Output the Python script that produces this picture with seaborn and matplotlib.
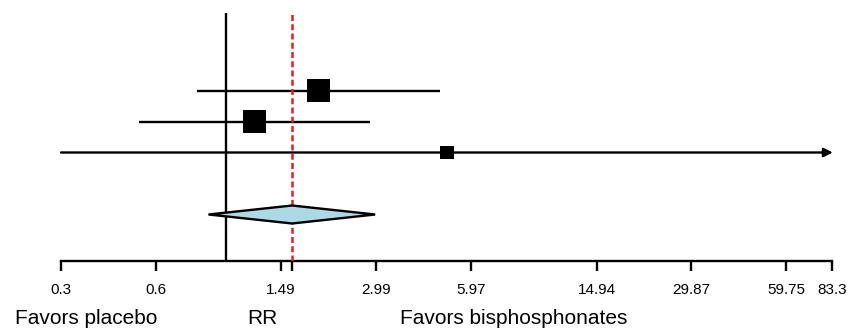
import numpy as np
import pandas as pd
import matplotlib
matplotlib.use("Agg")
import matplotlib.pyplot as plt
import seaborn as sns

# ---- data ----
studies = ["Study 1", "Study 2", "Study 3"]
rr = [1.96, 1.23, 5.02]
ci_low = [0.81, 0.53, 0.30]
ci_high = [4.77, 2.86, 83.3]
weights = [3, 3, 1]  # relative box weight
pooled_rr = 1.62
pooled_low = 0.88
pooled_high = 2.97
tick_values = [0.3, 0.6, 1.49, 1.62, 2.99, 5.97, 14.94, 29.87, 59.75, 83.3]
tick_labels = ["0.3", "0.6", "1.49", "", "2.99", "5.97", "14.94", "29.87", "59.75", "83.3"]

sns.set_theme(style="white")
plt.rcParams['font.family'] = ['Liberation Sans', 'DejaVu Sans']
plt.rcParams['text.color'] = 'black'
plt.rcParams['xtick.color'] = 'black'

W, H = 850, 329
fig = plt.figure(figsize=(W / 100, H / 100), dpi=100)
# axes: x 61..832 px, y 13..261 px (from top)
ax = fig.add_axes([61 / W, 1 - 261 / H, (832 - 61) / W, (261 - 13) / H])
ax.set_xscale("log")
ax.set_xlim(0.3, 83.3)
ax.set_ylim(6.5, -1.5)

df = pd.DataFrame({"study": studies, "rr": rr, "lo": ci_low, "hi": ci_high,
                   "w": weights, "row": [1, 2, 3]})

# CI lines
for _, r in df.iterrows():
    if r["hi"] >= 83.3:
        ax.annotate("", xy=(r["hi"] * 1.006, r["row"]), xytext=(r["lo"], r["row"]),
                    arrowprops=dict(arrowstyle="-|>", color="black", lw=1.7,
                                    mutation_scale=13, shrinkA=0, shrinkB=0),
                    annotation_clip=False)
    else:
        ax.plot([r["lo"], r["hi"]], [r["row"], r["row"]], color="black", lw=1.7,
                solid_capstyle="butt", zorder=2)

# squares
sns.scatterplot(data=df, x="rr", y="row", size="w", sizes=(10 ** 2, 16.5 ** 2),
                marker="s", color="black", edgecolor="black", linewidth=0,
                legend=False, ax=ax, zorder=3, clip_on=False)

# vertical reference lines
ax.axvline(1.0, ymin=0, ymax=1, color="black", lw=1.7, zorder=1)
ax.axvline(pooled_rr, color="#dd2222", lw=1.8, ls=(0, (2.4, 1.3)), zorder=4)

# pooled diamond
yd = 5.0
hh = 0.29
ax.fill([pooled_low, pooled_rr, pooled_high, pooled_rr],
        [yd, yd - hh, yd, yd + hh], facecolor="#add8e6", edgecolor="black",
        lw=1.7, zorder=5)

# axes styling
for s in ["top", "left", "right"]:
    ax.spines[s].set_visible(False)
ax.spines["bottom"].set_linewidth(1.7)
ax.spines["bottom"].set_color("black")
ax.set_yticks([])
ax.set_xticks(tick_values)
ax.set_xticklabels(tick_labels)
ax.minorticks_off()
ax.tick_params(axis="x", which="major", direction="out", length=7, width=1.7,
               color="black", labelcolor="black", labelsize=11, pad=9, bottom=True)
ax.set_xlabel("")
ax.set_ylabel("")

# footer labels
fig.text(15 / W, 1 - 318 / H, "Favors placebo", fontsize=15, ha="left", va="center", color="black")
fig.text(262 / W, 1 - 318 / H, "RR", fontsize=15, ha="center", va="center", color="black")
fig.text(400 / W, 1 - 318 / H, "Favors bisphosphonates", fontsize=15, ha="left", va="center", color="black")

fig.savefig("out.png", dpi=100)
